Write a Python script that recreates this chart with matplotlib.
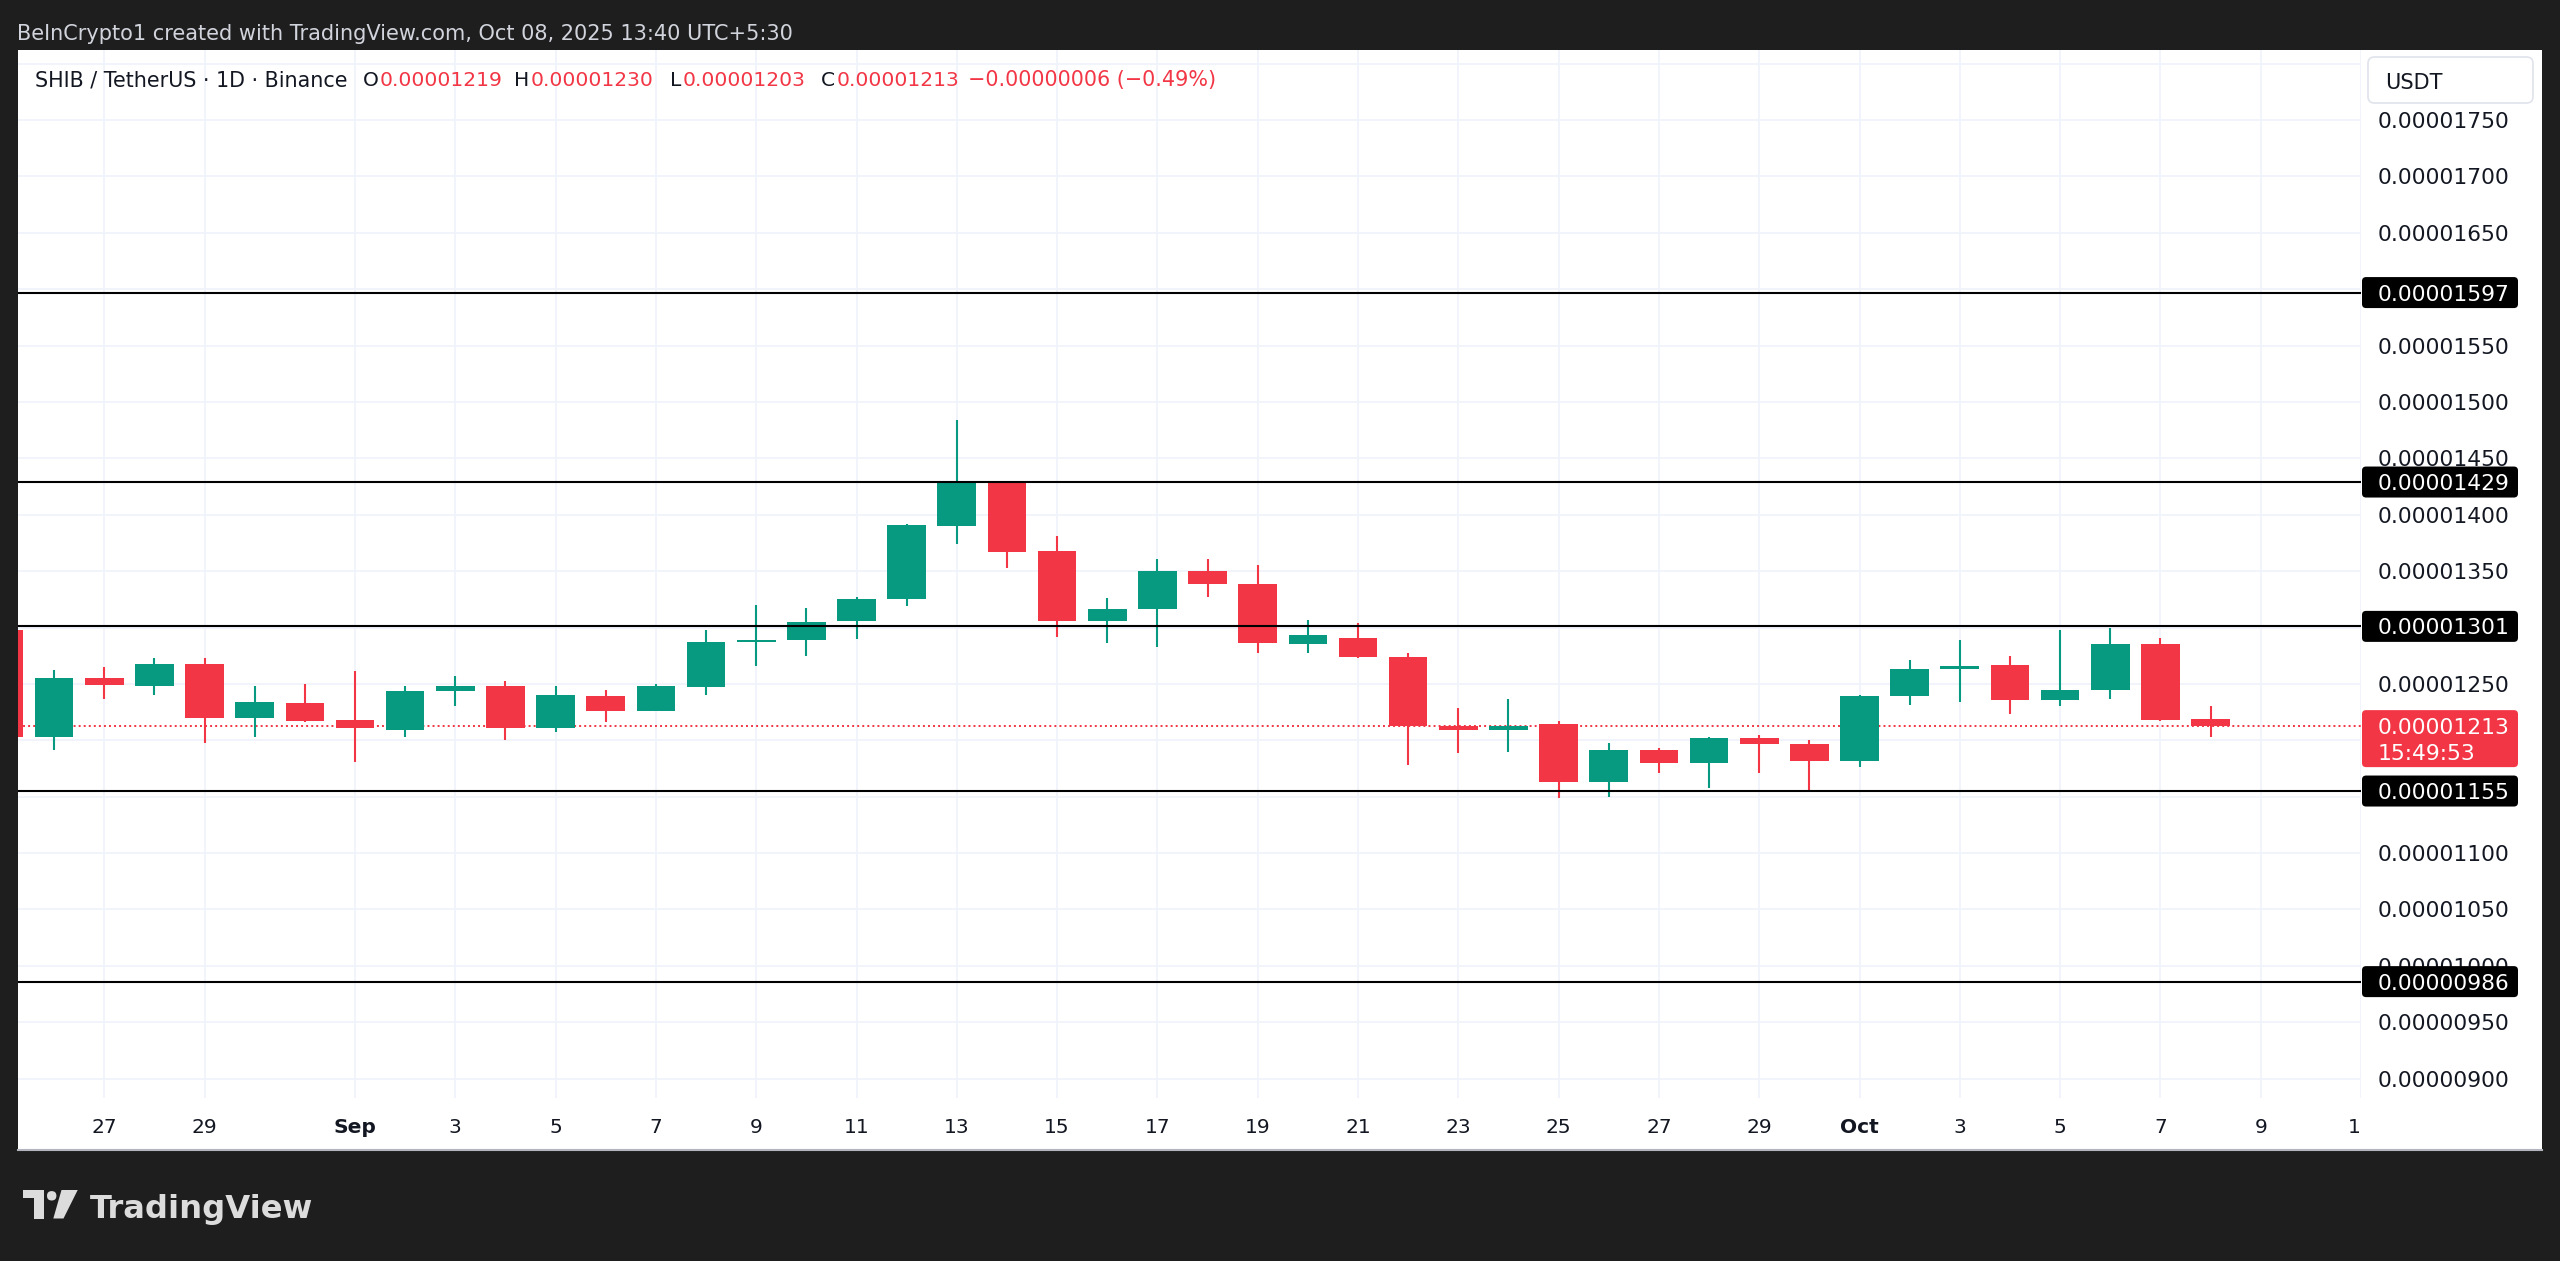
import numpy as np
import pandas as pd
import matplotlib
matplotlib.use("Agg")
import matplotlib.pyplot as plt
import matplotlib.dates as mdates
from matplotlib.patches import Rectangle, FancyBboxPatch, Polygon
from matplotlib.transforms import Bbox

# daily SHIB/USDT candles, prices in units of 1e-8 USDT
dates = pd.date_range("2025-08-25", "2025-10-08", freq="D")
opens = [1298, 1203, 1255, 1248, 1268, 1220, 1233, 1218, 1209, 1244,
         1248, 1211, 1239, 1226, 1247, 1287, 1289, 1306, 1325, 1390,
         1428, 1368, 1306, 1316, 1350, 1339, 1285, 1291, 1274, 1213,
         1209, 1214, 1163, 1191, 1180, 1202, 1197, 1182, 1239, 1263,
         1267, 1236, 1245, 1285, 1219]
highs = [1300, 1262, 1265, 1273, 1273, 1248, 1250, 1261, 1248, 1257,
         1253, 1248, 1245, 1250, 1298, 1320, 1317, 1327, 1392, 1484,
         1430, 1381, 1326, 1361, 1361, 1355, 1307, 1304, 1277, 1229,
         1237, 1217, 1198, 1193, 1203, 1205, 1200, 1240, 1271, 1289,
         1275, 1298, 1300, 1291, 1230]
lows = [1200, 1191, 1237, 1240, 1198, 1203, 1216, 1181, 1203, 1230,
        1200, 1207, 1216, 1226, 1240, 1266, 1275, 1290, 1319, 1374,
        1353, 1292, 1286, 1283, 1327, 1277, 1277, 1273, 1178, 1189,
        1190, 1149, 1150, 1171, 1158, 1171, 1154, 1176, 1231, 1234,
        1223, 1230, 1237, 1217, 1203]
closes = [1203, 1255, 1249, 1268, 1220, 1234, 1217, 1211, 1244, 1248,
          1211, 1240, 1226, 1248, 1287, 1289, 1305, 1325, 1391, 1429,
          1367, 1306, 1316, 1350, 1339, 1286, 1293, 1274, 1213, 1209,
          1213, 1163, 1191, 1180, 1202, 1197, 1182, 1239, 1263, 1266,
          1236, 1245, 1285, 1218, 1213]

levels = [1597, 1429, 1301, 1155, 986]
last_price = 1213
countdown = "15:49:53"

price_ticks = [900, 950, 1000, 1050, 1100, 1150, 1200, 1250, 1300, 1350, 1400,
               1450, 1500, 1550, 1600, 1650, 1700, 1750, 1800]
# labels that sit fully under a price box (or the USDT box) are left blank
hidden_ticks = [1150, 1200, 1300, 1600, 1800]
date_ticks = ["2025-08-27", "2025-08-29", "2025-09-01", "2025-09-03", "2025-09-05",
              "2025-09-07", "2025-09-09", "2025-09-11", "2025-09-13", "2025-09-15",
              "2025-09-17", "2025-09-19", "2025-09-21", "2025-09-23", "2025-09-25",
              "2025-09-27", "2025-09-29", "2025-10-01", "2025-10-03", "2025-10-05",
              "2025-10-07", "2025-10-09", "2025-10-11"]
date_labels = ["27", "29", "Sep", "3", "5", "7", "9", "11", "13", "15", "17", "19",
               "21", "23", "25", "27", "29", "Oct", "3", "5", "7", "9", "11"]

UP = "#089981"
DOWN = "#f23645"
INK = "#131722"
BG = "#1e1e1e"
W, H = 2560, 1261


def fx(px):
    return px / W


def fy(py):
    return 1 - py / H


fig = plt.figure(figsize=(W / 100, H / 100), dpi=100, facecolor=BG)
renderer = fig.canvas.get_renderer()


def fit_width(t, target):
    w = t.get_window_extent(renderer).width
    t.set_fontsize(t.get_fontsize() * target / w)


# white chart panel
fig.patches.append(Rectangle((fx(18), fy(1150)), fx(2542) - fx(18), fy(50) - fy(1150),
                             transform=fig.transFigure, facecolor="white",
                             edgecolor="none", zorder=-2))
fig.lines.append(plt.Line2D([fx(18), fx(2542)], [fy(1150), fy(1150)],
                            transform=fig.transFigure, color="#b2b5be", lw=1.5))

ax = fig.add_axes([fx(18), fy(1098), (2361 - 18) / W, (1098 - 50) / H])
ax.set_facecolor("white")
for s in ax.spines.values():
    s.set_visible(False)

x = mdates.date2num(dates)
x0 = x[0]
ax.set_xlim(x0 + 0.28, x0 + 46.98)
ax.set_ylim(882.8, 1812.1)

# grid
tick_x = mdates.date2num(pd.to_datetime(date_ticks))
ax.set_xticks(tick_x)
ax.set_xticklabels([])
ax.set_yticks(price_ticks)
ax.set_yticklabels(["" if v in hidden_ticks else f"{v * 1e-8:.8f}" for v in price_ticks])
ax.grid(True, color="#f0f3fa", lw=1.3)
ax.set_axisbelow(True)
ax.yaxis.tick_right()
ax.tick_params(axis="x", length=0)
ax.tick_params(axis="y", length=0, pad=12, labelsize=15.7, labelcolor=INK)
for lab in ax.get_yticklabels():
    lab.set_fontfamily("DejaVu Sans")

# candles
opens_a = np.array(opens)
closes_a = np.array(closes)
colors = [UP if c >= o else DOWN for o, c in zip(opens, closes)]
ax.vlines(x, lows, highs, colors=colors, lw=1.5, zorder=3)
body_lo = np.minimum(opens_a, closes_a)
body_h = np.maximum(np.abs(closes_a - opens_a), 1.2)
ax.bar(x, body_h, bottom=body_lo, width=0.77, color=colors, zorder=4, linewidth=0)

# horizontal levels and last price line
for lv in levels:
    ax.axhline(lv, color="black", lw=1.5, zorder=5)
ax.axhline(last_price, color=DOWN, lw=1.4, ls=(0, (1, 1.6)), zorder=2)


def ypix(v):
    return H - ax.transData.transform((x0, v))[1]


def price_box(v, color, lines):
    yc = ypix(v)
    top = yc - 15.5
    bottom = yc + 15.5 + 26 * (len(lines) - 1)
    fig.patches.append(FancyBboxPatch((fx(2362), fy(bottom)), fx(2518) - fx(2362),
                                      fy(top) - fy(bottom),
                                      boxstyle="round,pad=0,rounding_size=0.0016",
                                      mutation_aspect=W / H,
                                      transform=fig.transFigure, facecolor=color,
                                      edgecolor="none", zorder=5))
    for i, s in enumerate(lines):
        fig.text(fx(2378), fy(yc + 26 * i), s, color="white", fontsize=15.7,
                 family="DejaVu Sans", ha="left", va="center_baseline", zorder=6)


for lv in levels:
    price_box(lv, "black", [f"{lv * 1e-8:.8f}"])
price_box(last_price, DOWN, [f"{last_price * 1e-8:.8f}", countdown])

# USDT currency box
fig.patches.append(FancyBboxPatch((fx(2368), fy(103)), fx(2533) - fx(2368), fy(57) - fy(103),
                                  boxstyle="round,pad=0,rounding_size=0.0025",
                                  mutation_aspect=W / H, transform=fig.transFigure,
                                  facecolor="white", edgecolor="#e0e3eb", lw=1.2, zorder=5))
fig.text(fx(2385), fy(81), "USDT", color=INK, fontsize=15, family="DejaVu Sans",
         ha="left", va="center_baseline", zorder=6)

# date labels, the last one is cut by the price scale
clip = Bbox([[0, 0], [2361, H]])
for tx, lab in zip(tick_x, date_labels):
    bold = lab in ("Sep", "Oct")
    t = ax.text(tx, -0.0267, lab, transform=ax.get_xaxis_transform(), ha="center",
                va="center_baseline", fontsize=14.5, color=INK, family="DejaVu Sans",
                fontweight="bold" if bold else "normal", clip_on=False)
    if tx > ax.get_xlim()[1] - 0.5:
        t.set_clip_on(True)
        t.set_clip_box(clip)

# header
t = fig.text(fx(17), fy(32), "BeInCrypto1 created with TradingView.com, Oct 08, 2025 13:40 UTC+5:30",
             color="#d1d4dc", fontsize=14, family="DejaVu Sans", ha="left", va="center_baseline")
fit_width(t, 780)

leg_y = fy(86)
t = fig.text(fx(35), leg_y, "SHIB / TetherUS · 1D · Binance", color=INK, fontsize=14.6,
             family="DejaVu Sans", ha="left", va="baseline")
fit_width(t, 313)
ohlc = [("O", 363, opens[-1]), ("H", 514, highs[-1]), ("L", 670, lows[-1]), ("C", 821, closes[-1])]
for key, px, v in ohlc:
    k = fig.text(fx(px), leg_y, key, color=INK, fontsize=14.6, family="DejaVu Sans",
                 ha="left", va="baseline")
    kw = k.get_window_extent(renderer).width
    fig.text(fx(px + kw + 1), leg_y, f"{v * 1e-8:.8f}", color=DOWN, fontsize=14.6,
             family="DejaVu Sans", ha="left", va="baseline")
chg = closes[-1] - opens[-1]
pct = chg / opens[-1] * 100
t = fig.text(fx(968), leg_y, f"\u2212{abs(chg) * 1e-8:.8f} (\u2212{abs(pct):.2f}%)", color=DOWN,
             fontsize=14.6, family="DejaVu Sans", ha="left", va="baseline")
fit_width(t, 249)

# TradingView logo
logo = "#dcdcdc"
fig.patches.append(Rectangle((fx(23), fy(1198)), fx(43.5) - fx(23), fy(1190) - fy(1198),
                             transform=fig.transFigure, facecolor=logo, edgecolor="none"))
fig.patches.append(Rectangle((fx(34), fy(1218.5)), fx(43.5) - fx(34), fy(1190) - fy(1218.5),
                             transform=fig.transFigure, facecolor=logo, edgecolor="none"))
fig.patches.append(Polygon([(fx(61.5), fy(1190)), (fx(77.7), fy(1190)),
                            (fx(63.5), fy(1218.5)), (fx(53.3), fy(1218.5))],
                           transform=fig.transFigure, facecolor=logo, edgecolor="none"))
fig.patches.append(FancyBboxPatch((fx(47), fy(1200.5)), fx(9.4) - fx(0), fy(0) - fy(9.4),
                                  boxstyle="round,pad=0,rounding_size=0.00183",
                                  mutation_aspect=W / H, transform=fig.transFigure,
                                  facecolor=logo, edgecolor="none"))
t = fig.text(fx(90), fy(1218.3), "TradingView", color=logo, fontsize=27,
             family="DejaVu Sans", fontweight="bold", ha="left", va="baseline")
fit_width(t, 223)

fig.savefig("out.png", dpi=100, facecolor=BG)
